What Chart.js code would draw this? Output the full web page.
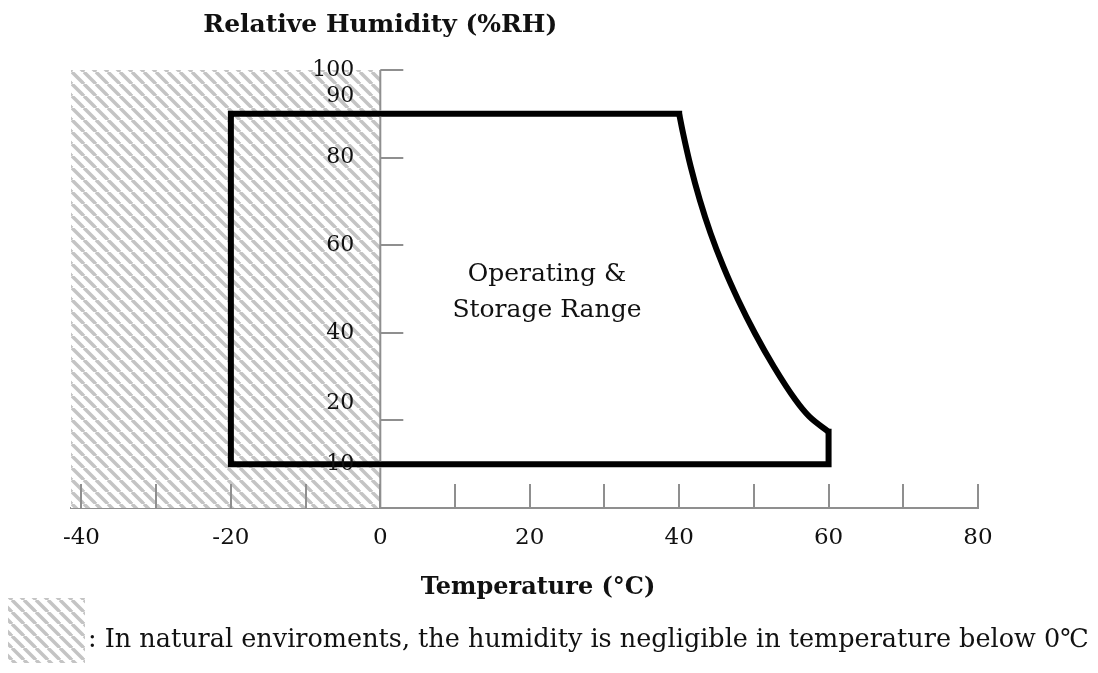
<!DOCTYPE html>
<html>
<head>
<meta charset="utf-8">
<script src="https://cdn.jsdelivr.net/npm/chart.js@4.4.1/dist/chart.umd.min.js"></script>
<style>
  html, body { margin: 0; padding: 0; background: #ffffff; }
  #wrap { width: 1098px; height: 673px; }
</style>
</head>
<body>
<div id="wrap"><canvas id="rh-chart" width="1098" height="673"></canvas></div>
<script>
// Axis ticks
const xTicks = [-40, -30, -20, -10, 0, 10, 20, 30, 40, 50, 60, 70, 80];
const xLabels = [-40, -20, 0, 20, 40, 60, 80];
const yTickLabels = [10, 20, 40, 60, 80, 90, 100];
const xMin = -41.4;
const xMax = 80;

// Operating / storage boundary (straight parts)
const boxPoints = [
    { x: 40, y: 90 },
    { x: -20, y: 90 },
    { x: -20, y: 10 },
    { x: 60, y: 10 },
    { x: 60, y: 17.4 }
];

// Curved edge
const curveTemp = [40, 40.52, 41.55, 42.77, 44.21, 45.92, 47.9, 50.14, 52.66, 55.56, 57.4, 60];
const curveRH   = [90, 85.6, 77.9, 70.3, 62.7, 55.1, 47.5, 39.9, 32.3, 24.7, 20.9, 17.4];

// Region below 0 degC (hatched)
const coldRegion = [{ x: xMin, y: 100 }, { x: 0, y: 100 }];

const yTitle = 'Relative Humidity (%RH)';
const xTitle = 'Temperature (°C)';
const rangeLabel = ['Operating &', 'Storage Range'];
const footnote = ': In natural enviroments, the humidity is negligible in temperature below 0℃';

const FONT = '"DejaVu Serif", "Liberation Serif", serif';
const AXIS_GREY = '#8f8f8f';

// Label nudges for crowded y labels
const yLabelLift = { 90: 18, 20: 17 };

/**
 * Diagonal hatch pattern used for the cold region and its key
 */
function makeHatch() {
    const size = 12;
    const tile = document.createElement('canvas');
    tile.width = size;
    tile.height = size;
    const t = tile.getContext('2d');
    t.fillStyle = '#ffffff';
    t.fillRect(0, 0, size, size);
    t.strokeStyle = '#c4c4c4';
    t.lineWidth = 3.5;
    [-size, 0, size].forEach(function(off) {
        t.beginPath();
        t.moveTo(off, 0);
        t.lineTo(off + size, size);
        t.stroke();
    });
    return t.createPattern(tile, 'repeat');
}

const ctx = document.getElementById('rh-chart').getContext('2d');
const hatch = makeHatch();

// Tick marks, labels and the free text around the chart
const decorations = {
    id: 'decorations',
    beforeDatasetsDraw(chart) {
        // y tick marks point right, under the boundary line
        const c = chart.ctx;
        const ys = chart.scales.y;
        const x0 = chart.scales.x.getPixelForValue(0);
        c.save();
        c.strokeStyle = AXIS_GREY;
        c.lineWidth = 2;
        ys.ticks.forEach(function(t) {
            const y = Math.round(ys.getPixelForValue(t.value));
            c.beginPath();
            c.moveTo(x0, y);
            c.lineTo(x0 + 23, y);
            c.stroke();
        });
        c.restore();
    },
    afterDraw(chart) {
        const c = chart.ctx;
        const xs = chart.scales.x;
        const ys = chart.scales.y;
        const x0 = xs.getPixelForValue(0);
        const yBottom = ys.getPixelForValue(0);

        c.save();
        // y axis line over the hatch, broken where the boundary crosses
        c.strokeStyle = AXIS_GREY;
        c.lineWidth = 2;
        c.beginPath();
        c.moveTo(x0, ys.getPixelForValue(100));
        c.lineTo(x0, ys.getPixelForValue(90) - 3);
        c.moveTo(x0, ys.getPixelForValue(90) + 3);
        c.lineTo(x0, ys.getPixelForValue(10) - 3);
        c.moveTo(x0, ys.getPixelForValue(10) + 3);
        c.lineTo(x0, yBottom);
        c.stroke();

        // x tick marks point up
        xs.ticks.forEach(function(t) {
            const x = Math.round(xs.getPixelForValue(t.value));
            c.beginPath();
            c.moveTo(x, yBottom);
            c.lineTo(x, yBottom - 24);
            c.stroke();
        });

        c.fillStyle = '#111111';
        c.font = '22px ' + FONT;
        c.textAlign = 'right';
        c.textBaseline = 'middle';
        ys.ticks.forEach(function(t) {
            const y = ys.getPixelForValue(t.value) - (yLabelLift[t.value] || 0);
            c.fillText(String(t.value), x0 - 26, y);
        });

        // titles
        c.textAlign = 'center';
        c.font = 'bold 25px ' + FONT;
        c.fillText(yTitle, x0, 25);
        c.font = 'bold 24px ' + FONT;
        c.fillText(xTitle, 538, 588);

        // text inside the range
        c.font = '25px ' + FONT;
        const lx = xs.getPixelForValue(22.3);
        const ly = ys.getPixelForValue(53.2);
        rangeLabel.forEach(function(line, i) {
            c.fillText(line, lx, ly + i * 36);
        });

        // key
        c.fillStyle = hatch;
        c.fillRect(8, 598, 77, 65);
        c.fillStyle = '#111111';
        c.textAlign = 'left';
        c.textBaseline = 'alphabetic';
        c.font = '25.5px ' + FONT;
        c.fillText(footnote, 88, 647);
        c.restore();
    }
};

const rhChart = new Chart(ctx, {
    type: 'scatter',
    data: {
        datasets: [
            {
                label: 'Below 0 °C',
                data: coldRegion,
                order: 3,
                showLine: true,
                borderWidth: 0,
                pointRadius: 0,
                backgroundColor: hatch,
                fill: 'origin'
            },
            {
                label: 'Range',
                data: boxPoints,
                order: 1,
                showLine: true,
                borderColor: '#000000',
                borderWidth: 6,
                borderJoinStyle: 'miter',
                borderCapStyle: 'square',
                pointRadius: 0,
                tension: 0,
                fill: false
            },
            {
                label: 'Limit',
                data: curveTemp.map((t, i) => ({ x: t, y: curveRH[i] })),
                order: 1,
                showLine: true,
                borderColor: '#000000',
                borderWidth: 6,
                pointRadius: 0,
                cubicInterpolationMode: 'monotone',
                fill: false
            }
        ]
    },
    options: {
        responsive: false,
        animation: false,
        layout: {
            padding: { left: 71, right: 120, top: 70, bottom: 105 }
        },
        scales: {
            x: {
                type: 'linear',
                min: xMin,
                max: xMax,
                z: 1,
                afterBuildTicks: function(scale) {
                    scale.ticks = xTicks.map(v => ({ value: v }));
                },
                afterFit: function(scale) {
                    scale.height = 60;
                },
                grid: { display: false, drawTicks: false },
                border: { display: true, color: AXIS_GREY, width: 2 },
                ticks: {
                    color: '#111111',
                    padding: 16,
                    maxRotation: 0,
                    autoSkip: false,
                    font: { family: FONT, size: 23 },
                    callback: function(value) {
                        return xLabels.includes(value) ? String(value) : '';
                    }
                }
            },
            y: {
                type: 'linear',
                min: 0,
                max: 100,
                position: { x: 0 },
                afterBuildTicks: function(scale) {
                    scale.ticks = yTickLabels.map(v => ({ value: v }));
                },
                grid: { display: false, drawTicks: false },
                border: { display: false },
                ticks: { display: false }
            }
        },
        plugins: {
            legend: { display: false },
            tooltip: { enabled: false },
            title: { display: false }
        }
    },
    plugins: [decorations]
});
</script>
</body>
</html>
